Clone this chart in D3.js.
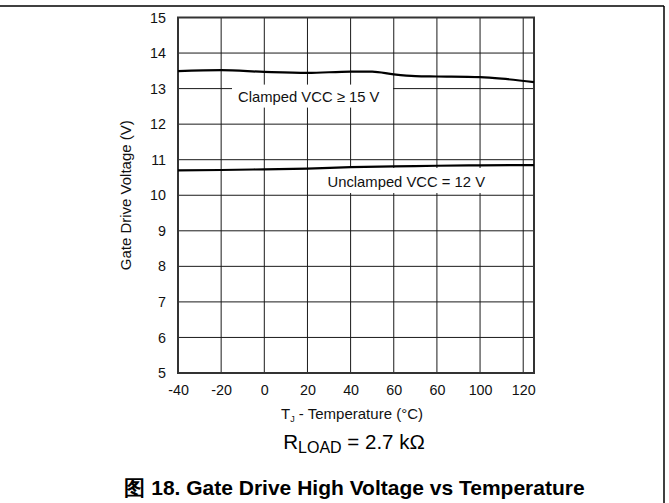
<!DOCTYPE html>
<html><head><meta charset="utf-8">
<script src="https://cdn.jsdelivr.net/npm/d3@7"></script>
<style>
html,body{margin:0;padding:0;background:#fff;}
svg{display:block;font-family:"Liberation Sans",Arial,sans-serif;}
</style></head>
<body>
<script>
// ---- data ----
const clampedTemp = [-40, -20, 0, 20, 40, 50, 60, 70, 80, 100, 110, 125];
const clampedV    = [13.49, 13.52, 13.47, 13.44, 13.48, 13.48, 13.40, 13.35, 13.34, 13.32, 13.28, 13.18];
const unclampedTemp = [-40, -20, 0, 20, 40, 60, 80, 100, 125];
const unclampedV    = [10.70, 10.71, 10.73, 10.75, 10.79, 10.81, 10.83, 10.84, 10.85];
const xTickValues = [-40, -20, 0, 20, 40, 60, 80, 100, 120];
const xTickLabels = ["-40", "-20", "0", "20", "40", "60", "60", "100", "120"];
const yTickValues = [5, 6, 7, 8, 9, 10, 11, 12, 13, 14, 15];
const seriesLabels = ["Clamped VCC \u2265 15 V", "Unclamped VCC = 12 V"];

const W = 669, H = 503;
const m = {left: 178, right: 534, top: 17.5, bottom: 373};
const svg = d3.select("body").append("svg").attr("width", W).attr("height", H);

// outer frame (top and right)
svg.append("line").attr("x1", 0).attr("x2", 664).attr("y1", 6).attr("y2", 6).attr("stroke", "#000").attr("stroke-width", 1.5);
svg.append("line").attr("x1", 664).attr("x2", 664).attr("y1", 6).attr("y2", H).attr("stroke", "#000").attr("stroke-width", 1.5);

const x = d3.scaleLinear().domain([-40, 125]).range([m.left, m.right]);
const y = d3.scaleLinear().domain([5, 15]).range([m.bottom, m.top]);

// grid
const grid = svg.append("g").attr("stroke", "#1a1a1a").attr("stroke-width", 1);
grid.selectAll("line.v").data(xTickValues).join("line")
  .attr("x1", d => x(d)).attr("x2", d => x(d)).attr("y1", m.top).attr("y2", m.bottom);
grid.selectAll("line.h").data(yTickValues).join("line")
  .attr("x1", m.left).attr("x2", m.right).attr("y1", d => y(d)).attr("y2", d => y(d));

// label boxes (white background)
const boxes = svg.append("g");
boxes.append("rect").attr("x", 232).attr("y", y(13) - 4).attr("width", 161).attr("height", 23).attr("fill", "#fff");
boxes.append("rect").attr("x", 322).attr("y", 168).attr("width", 168).attr("height", 25).attr("fill", "#fff");

// frame of plot
svg.append("rect").attr("x", m.left).attr("y", m.top).attr("width", m.right - m.left).attr("height", m.bottom - m.top)
  .attr("fill", "none").attr("stroke", "#333").attr("stroke-width", 2);

// curves
const line = d3.line().x(d => x(d[0])).y(d => y(d[1])).curve(d3.curveMonotoneX);
svg.append("path").datum(clampedTemp.map((t, i) => [t, clampedV[i]]))
  .attr("d", line).attr("fill", "none").attr("stroke", "#000").attr("stroke-width", 2.2);
svg.append("path").datum(unclampedTemp.map((t, i) => [t, unclampedV[i]]))
  .attr("d", line).attr("fill", "none").attr("stroke", "#000").attr("stroke-width", 2.2);

// series labels
svg.append("text").attr("x", 238).attr("y", 102).attr("font-size", 14.8).attr("fill", "#111").text(seriesLabels[0]);
svg.append("text").attr("x", 327.5).attr("y", 187).attr("font-size", 14.8).attr("fill", "#111").text(seriesLabels[1]);

// axes ticks (labels only)
const xAxis = d3.axisBottom(x).tickValues(xTickValues).tickSize(0).tickPadding(0)
  .tickFormat((d, i) => xTickLabels[i]);
const gx = svg.append("g").attr("transform", `translate(0,${m.bottom + 12})`).call(xAxis);
gx.select(".domain").remove();
gx.selectAll("text").attr("font-size", 14.3).attr("fill", "#111").attr("font-family", "Liberation Sans, Arial, sans-serif").attr("dy", "0.71em");

const yAxis = d3.axisLeft(y).tickValues(yTickValues).tickSize(0).tickPadding(0).tickFormat(d3.format("d"));
const gy = svg.append("g").attr("transform", `translate(${m.left - 12},0)`).call(yAxis);
gy.select(".domain").remove();
gy.selectAll("text").attr("font-size", 14.3).attr("fill", "#111").attr("font-family", "Liberation Sans, Arial, sans-serif");

// axis titles
svg.append("text").attr("transform", `translate(131,${(m.top + m.bottom) / 2}) rotate(-90)`)
  .attr("text-anchor", "middle").attr("font-size", 15).attr("fill", "#111").text("Gate Drive Voltage (V)");

const xt = svg.append("text").attr("x", 352).attr("y", 419).attr("text-anchor", "middle").attr("font-size", 15).attr("fill", "#111");
xt.append("tspan").text("T");
xt.append("tspan").attr("font-size", 9).attr("dy", 3).text("J");
xt.append("tspan").attr("dy", -3).text(" - Temperature (\u00B0C)");

const rl = svg.append("text").attr("x", 354).attr("y", 449).attr("text-anchor", "middle").attr("font-size", 20.5).attr("fill", "#000");
rl.append("tspan").text("R");
rl.append("tspan").attr("font-size", 16).attr("dy", 4).text("LOAD");
rl.append("tspan").attr("dy", -4).text(" = 2.7 k\u03A9");

svg.append("text").attr("x", 354.5).attr("y", 495).attr("text-anchor", "middle").attr("font-size", 21)
  .attr("font-weight", "bold").attr("fill", "#000").text("\u56FE 18. Gate Drive High Voltage vs Temperature");
</script>
</body></html>
